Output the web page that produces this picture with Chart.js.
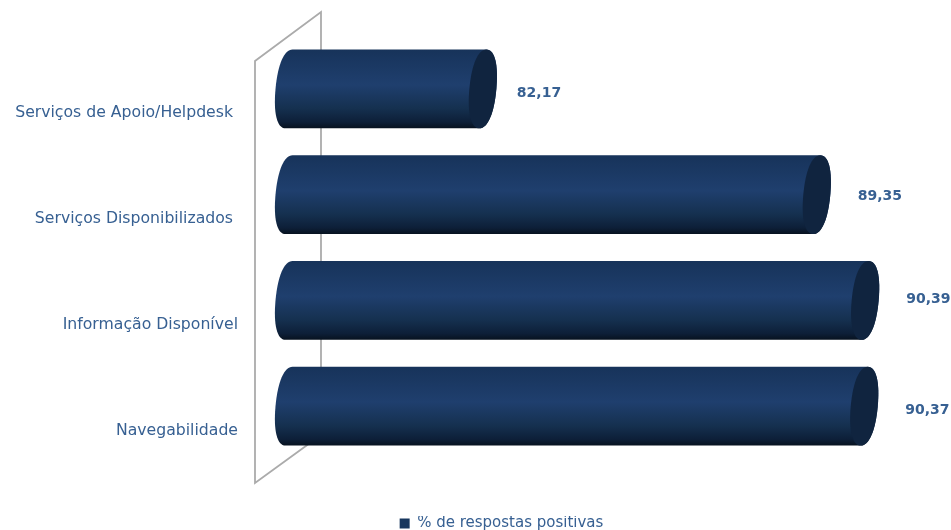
<!DOCTYPE html>
<html>
<head>
<meta charset="utf-8">
<style>
  html, body { margin: 0; background: #fff; }
  #box { position: relative; width: 951px; height: 530px; }
</style>
<script src="https://cdn.jsdelivr.net/npm/chart.js@4"></script>
</head>
<body>
<div id="box"><canvas id="grafico"></canvas></div>
<script>
const categorias = ["Serviços de Apoio/Helpdesk ", "Serviços Disponibilizados ", "Informação Disponível", "Navegabilidade"];
const valores = [82.17, 89.35, 90.39, 90.37];
const nomeSerie = "% de respostas positivas";

const corTexto = "#376092";
const corBarra = "#17375e";

// ajuste fino de cada rotulo de valor
const rotuloDx = [20, 27, 27, 27];
const rotuloDy = [4, 2, -1, 4];

// empurra a legenda para a direita e para o rodape
const legendaDeslocada = {
    id: "legendaDeslocada",
    afterLayout(chart) {
        chart.legend.left += 42;
        chart.legend.top += 11;
    }
};

// parede em perspectiva atras das barras
const paredeGrafico = {
    id: "parede",
    beforeDatasetsDraw(chart) {
        const { ctx, chartArea: a } = chart;
        ctx.save();
        ctx.strokeStyle = "#ababab";
        ctx.lineWidth = 1.8;
        ctx.beginPath();
        ctx.moveTo(a.left + 46, a.bottom - 24);
        ctx.lineTo(a.left + 46, a.top - 24);
        ctx.lineTo(a.left - 20, a.top + 25);
        ctx.lineTo(a.left - 20, a.bottom + 24);
        ctx.closePath();
        ctx.stroke();
        ctx.restore();
    }
};

// meia tampa do cilindro, de cima para baixo (lado = -1 esquerda, 1 direita)
function meiaTampa(ctx, x, rx, ry, lado) {
    const k = 0.62;
    const de = lado > 0 ? -ry : ry;
    ctx.bezierCurveTo(x + lado * k * rx, de, x + lado * rx, de * k, x + lado * rx, 0);
    ctx.bezierCurveTo(x + lado * rx, -de * k, x + lado * k * rx, -de, x, -de);
}

// desenha cada barra como um cilindro deitado
const cilindros = {
    id: "cilindros",
    beforeDatasetDraw(chart, args) {
        const { ctx, chartArea } = chart;
        const meta = args.meta;
        const rx = 13.5;
        const inclinacao = -0.09;
        meta.data.forEach((barra, i) => {
            const ry = barra.height / 2;
            const cy = barra.y;
            const xEsq = chartArea.left + rx + 0.5;
            const xDir = barra.x - rx - 0.5;

            const grad = ctx.createLinearGradient(0, -ry, 0, ry);
            grad.addColorStop(0, "#17335a");
            grad.addColorStop(0.45, "#1f3f6e");
            grad.addColorStop(0.75, "#15304f");
            grad.addColorStop(0.92, "#0d1f38");
            grad.addColorStop(1, "#07121f");

            ctx.save();
            ctx.translate(0, cy);
            ctx.transform(1, 0, inclinacao, 1, 0, 0);

            ctx.beginPath();
            ctx.moveTo(xDir, -ry);
            meiaTampa(ctx, xDir, rx, ry, 1);
            ctx.lineTo(xEsq, ry);
            meiaTampa(ctx, xEsq, rx, ry, -1);
            ctx.closePath();
            ctx.fillStyle = grad;
            ctx.fill();

            ctx.beginPath();
            ctx.moveTo(xDir, -ry);
            meiaTampa(ctx, xDir, rx, ry, 1);
            meiaTampa(ctx, xDir, rx, ry, -1);
            ctx.closePath();
            ctx.fillStyle = "#10243f";
            ctx.fill();
            ctx.restore();

            ctx.save();
            ctx.font = "bold 14px 'DejaVu Sans'";
            ctx.fillStyle = corTexto;
            ctx.textAlign = "left";
            ctx.textBaseline = "middle";
            ctx.fillText(valores[i].toFixed(2).replace(".", ","), barra.x + rotuloDx[i], cy + rotuloDy[i]);
            ctx.restore();
        });
        return false;
    }
};

new Chart(document.getElementById("grafico"), {
    type: "bar",
    data: {
        labels: categorias,
        datasets: [{
            label: nomeSerie,
            data: valores,
            backgroundColor: corBarra,
            barPercentage: 0.745,
            categoryPercentage: 1
        }]
    },
    options: {
        indexAxis: "y",
        responsive: true,
        maintainAspectRatio: false,
        animation: false,
        layout: { padding: { left: 13, right: 3, top: 36, bottom: 0 } },
        plugins: {
            legend: {
                position: "bottom",
                labels: {
                    boxWidth: 10,
                    boxHeight: 10,
                    padding: 0,
                    color: corTexto,
                    font: { family: "'DejaVu Sans'", size: 15 }
                }
            },
            tooltip: { enabled: false }
        },
        scales: {
            x: {
                min: 77.4,
                max: 91.87,
                grid: { display: false },
                border: { display: false },
                ticks: { display: false },
                afterFit(scale) { scale.height = 46; }
            },
            y: {
                grid: { display: false, tickLength: 37 },
                border: { display: false },
                afterFit(scale) { scale.width = 262; },
                ticks: {
                    color: corTexto,
                    padding: 0,
                    labelOffset: 24.5,
                    font: { family: "'DejaVu Sans'", size: 15.7 }
                }
            }
        }
    },
    plugins: [legendaDeslocada, paredeGrafico, cilindros]
});
</script>
</body>
</html>
